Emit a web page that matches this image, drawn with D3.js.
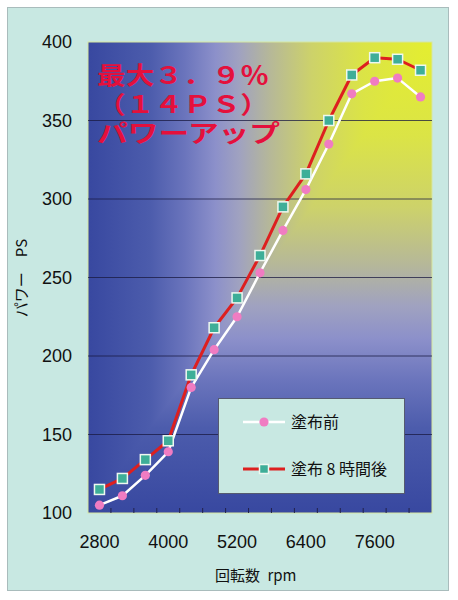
<!DOCTYPE html>
<html><head><meta charset="utf-8">
<script src="https://cdn.jsdelivr.net/npm/d3@7"></script>
<style>
html,body{margin:0;padding:0;background:#fff;}
svg{display:block;}
</style></head>
<body>
<svg id="c" width="458" height="600"></svg>
<script>
const rpm = [2800,3200,3600,4000,4400,4800,5200,5600,6000,6400,6800,7200,7600,8000,8400];
const before = [105,111,124,139,180,204,225,253,280,306,335,367,375,377,365];
const after  = [115,122,134,146,188,218,237,264,295,316,350,379,390,389,382];
const xTickLabels = [2800,4000,5200,6400,7600];
const yTicks = [100,150,200,250,300,350,400];
const seriesNames = ["塗布前","塗布 8 時間後"];
const annotation = ["最大３．９％","（１４ＰＳ）","パワーアップ"];
const xTitle = "回転数\u2002rpm";
const yTitle = "パワー　PS";

const svg = d3.select("#c");
const L=88,R=432,T=42,B=513;

const stops = [[0,"#e4ee30"],[0.2,"#dbe446"],[0.35,"#cdd26a"],[0.47,"#b6b898"],[0.56,"#a0a2c0"],
  [0.63,"#8c90ca"],[0.72,"#6a74bc"],[0.82,"#4c5cac"],[1,"#3848a0"]];
const defs = svg.append("defs");
const gh = defs.append("linearGradient").attr("id","gh").attr("gradientUnits","userSpaceOnUse")
  .attr("x1",R).attr("y1",0).attr("x2",L).attr("y2",0);
const gv = defs.append("linearGradient").attr("id","gv").attr("gradientUnits","userSpaceOnUse")
  .attr("x1",0).attr("y1",T).attr("x2",0).attr("y2",B);
stops.forEach(([o,c])=>{gh.append("stop").attr("offset",o).attr("stop-color",c);
                         gv.append("stop").attr("offset",o).attr("stop-color",c);});

// outer panel
svg.append("rect").attr("x",7.5).attr("y",7.5).attr("width",441).attr("height",583)
  .attr("fill","#c8e8e2").attr("stroke","#a9bcbc").attr("stroke-width",1);

const x = d3.scaleBand().domain(rpm).range([L,R]);
const cx = d => x(d)+x.bandwidth()/2;
const y = d3.scaleLinear().domain([100,400]).range([B,T]);

// plot area ("from corner" gradient: max of horizontal & vertical distance)
svg.append("rect").attr("x",L).attr("y",T).attr("width",R-L).attr("height",B-T).attr("fill","url(#gh)");
svg.append("polygon").attr("points",`${R},${T} ${R},${B} ${L},${B}`).attr("fill","url(#gv)");
svg.append("rect").attr("x",L).attr("y",T).attr("width",R-L).attr("height",B-T)
  .attr("fill","none").attr("stroke","#d6e6a0").attr("stroke-width",1);

// gridlines
svg.append("g").selectAll("line").data(yTicks.filter(v=>v>100&&v<400)).join("line")
  .attr("x1",L).attr("x2",R).attr("y1",d=>y(d)).attr("y2",d=>y(d))
  .attr("stroke","#1a1a40").attr("stroke-opacity",0.75).attr("stroke-width",1);

// tick marks at category boundaries
svg.append("g").selectAll("line").data(rpm.slice(1)).join("line")
  .attr("x1",d=>x(d)).attr("x2",d=>x(d)).attr("y1",B).attr("y2",B-5)
  .attr("stroke","#22224a").attr("stroke-width",1);

// y axis labels
const yAxis = d3.axisLeft(y).tickValues(yTicks).tickSize(0).tickPadding(0);
const ya = svg.append("g").attr("transform",`translate(72,0)`).call(yAxis);
ya.select(".domain").remove();
ya.selectAll("text").attr("font-family","Liberation Sans, Arial, sans-serif")
  .attr("font-size",18).attr("fill","#111");

// x axis labels
const xAxis = d3.axisBottom(x).tickValues(xTickLabels).tickSize(0).tickPadding(0);
const xa = svg.append("g").attr("transform",`translate(0,535)`).call(xAxis);
xa.select(".domain").remove();
xa.selectAll("text").attr("font-family","Liberation Sans, Arial, sans-serif")
  .attr("font-size",18).attr("fill","#111");

// axis titles
svg.append("text").attr("x",215).attr("y",581).attr("font-family","Noto Sans CJK JP, sans-serif")
  .attr("font-size",15).attr("fill","#111").text(xTitle);
svg.append("text").attr("transform","translate(27,278) rotate(-90)").attr("text-anchor","middle")
  .attr("font-family","Noto Sans CJK JP, sans-serif").attr("font-size",15).attr("fill","#111").text(yTitle);

// lines
const line = d3.line().x((d,i)=>cx(rpm[i])).y(d=>y(d));
svg.append("path").datum(after).attr("d",line).attr("fill","none")
  .attr("stroke","#dd1f1f").attr("stroke-width",3).attr("stroke-linejoin","round");
svg.append("path").datum(before).attr("d",line).attr("fill","none")
  .attr("stroke","#ffffff").attr("stroke-width",2.5).attr("stroke-linejoin","round");

// markers
svg.append("g").selectAll("rect").data(after).join("rect")
  .attr("x",(d,i)=>cx(rpm[i])-5).attr("y",d=>y(d)-5).attr("width",10).attr("height",10)
  .attr("fill","#3eae98").attr("stroke","#eef8f0").attr("stroke-width",1.5);
svg.append("g").selectAll("circle").data(before).join("circle")
  .attr("cx",(d,i)=>cx(rpm[i])).attr("cy",d=>y(d)).attr("r",4.6)
  .attr("fill","#f07cc2");

// annotation
const ann = svg.append("g").attr("font-family","Noto Sans CJK JP, sans-serif")
  .attr("font-size",24).attr("font-weight","bold").attr("fill","#e4103c");
const annX=[97,97,97], annW=[172,172,183];
annotation.forEach((t,i)=>{
  ann.append("text").attr("x",annX[i]).attr("y",84+i*29)
    .attr("textLength",annW[i]).attr("lengthAdjust","spacingAndGlyphs").text(t);
});

// legend
const lg = svg.append("g");
lg.append("rect").attr("x",218.5).attr("y",398.5).attr("width",186).attr("height",95)
  .attr("fill","#c8e8e2").attr("stroke","#555a70").attr("stroke-width",1);
lg.append("line").attr("x1",243).attr("x2",285).attr("y1",422).attr("y2",422)
  .attr("stroke","#fff").attr("stroke-width",2.5);
lg.append("circle").attr("cx",264).attr("cy",422).attr("r",4.6).attr("fill","#f07cc2");
lg.append("line").attr("x1",243).attr("x2",285).attr("y1",469).attr("y2",469)
  .attr("stroke","#dd1f1f").attr("stroke-width",3);
lg.append("rect").attr("x",259.5).attr("y",464.5).attr("width",9).attr("height",9)
  .attr("fill","#3eae98").attr("stroke","#eef8f0").attr("stroke-width",1.5);
lg.selectAll("text.l").data(seriesNames).join("text").attr("class","l")
  .attr("x",291).attr("y",(d,i)=>[428,475][i])
  .attr("font-family","Noto Sans CJK JP, sans-serif").attr("font-size",16).attr("fill","#111")
  .text(d=>d);
</script>
</body></html>
